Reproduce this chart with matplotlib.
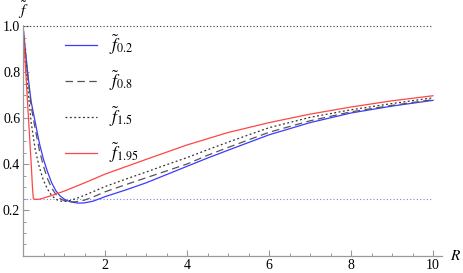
import numpy as np
import matplotlib.pyplot as plt
from matplotlib.ticker import MultipleLocator

plt.rcParams['mathtext.fontset'] = 'custom'
plt.rcParams['mathtext.rm'] = 'STIXGeneral'
plt.rcParams['mathtext.it'] = 'STIXGeneral:italic'
plt.rcParams['font.family'] = ['Liberation Serif', 'DejaVu Serif']

# values
r_02 = [0, 0.05, 0.1, 0.15, 0.2, 0.3, 0.4, 0.5, 0.6, 0.7, 0.8, 0.9, 1.0, 1.1, 1.2,
        1.35, 1.5, 1.7, 1.9, 2.0, 2.5, 3.0, 3.5, 4.0, 4.5, 5.0, 6.0, 7.0, 8.0, 9.0, 10.0]
f_02 = [1.0, 0.91, 0.82, 0.74, 0.67, 0.58, 0.49, 0.42, 0.365, 0.318, 0.284, 0.262, 0.248, 0.239, 0.234,
        0.230, 0.231, 0.238, 0.251, 0.258, 0.287, 0.318, 0.354, 0.39, 0.426, 0.46, 0.527, 0.58, 0.622, 0.652, 0.677]

r_08 = [0, 0.05, 0.1, 0.2, 0.3, 0.4, 0.5, 0.6, 0.7, 0.8, 0.9, 1.0, 1.15, 1.3, 1.5,
        1.7, 2.0, 2.5, 3.0, 3.5, 4.0, 4.5, 5.0, 6.0, 7.0, 8.0, 9.0, 10.0]
f_08 = [1.0, 0.9, 0.81, 0.65, 0.55, 0.46, 0.39, 0.335, 0.295, 0.268, 0.25, 0.241, 0.235, 0.236, 0.243,
        0.256, 0.279, 0.31, 0.34, 0.37, 0.40, 0.438, 0.472, 0.538, 0.588, 0.627, 0.655, 0.68]

r_15 = [0, 0.05, 0.1, 0.2, 0.3, 0.4, 0.5, 0.6, 0.7, 0.8, 0.9, 1.0, 1.1, 1.3, 1.5,
        1.7, 2.0, 2.5, 3.0, 3.5, 4.0, 4.5, 5.0, 6.0, 7.0, 8.0, 9.0, 10.0]
f_15 = [1.0, 0.87, 0.76, 0.58, 0.46, 0.385, 0.328, 0.29, 0.263, 0.247, 0.239, 0.237, 0.239, 0.25, 0.264,
        0.279, 0.302, 0.334, 0.365, 0.397, 0.428, 0.462, 0.495, 0.558, 0.603, 0.636, 0.663, 0.688]

r_195 = [0, 0.05, 0.1, 0.15, 0.2, 0.23, 0.25, 0.28, 0.3, 0.4, 0.5, 0.75, 1.0, 1.5,
         2.0, 2.5, 3.0, 4.0, 5.0, 6.0, 7.0, 8.0, 9.0, 10.0]
f_195 = [1.0, 0.85, 0.70, 0.55, 0.40, 0.30, 0.252, 0.247, 0.246, 0.247, 0.252, 0.266, 0.282, 0.318,
         0.356, 0.388, 0.42, 0.483, 0.537, 0.58, 0.617, 0.648, 0.675, 0.697]

labels = [r'$\tilde{f}_{\mathit{0.2}}$', r'$\tilde{f}_{\mathit{0.8}}$',
          r'$\tilde{f}_{\mathit{1.5}}$', r'$\tilde{f}_{\mathit{1.95}}$']

fig = plt.figure(figsize=(4.63, 2.73), dpi=100)
ax = fig.add_axes([0.0497, 0.0623, 0.905, 0.859])

ax.plot([0, 10], [1.0, 1.0], color='#333333', lw=0.8, ls=(0, (1, 2)))
ax.plot([0, 10], [0.25, 0.25], color='#8080ee', lw=0.8, ls=(0, (1, 2)))

ax.plot(r_02, f_02, color='#3b3bff', lw=0.9, label=labels[0])
ax.plot(r_08, f_08, color='#555555', lw=0.9, ls=(0, (6, 3.5)), label=labels[1])
ax.plot(r_15, f_15, color='#333333', lw=0.9, ls=(0, (1.5, 2)), label=labels[2])
ax.plot(r_195, f_195, color='#ff4545', lw=0.9, label=labels[3])

ax.set_xlim(0, 10.22)
ax.set_ylim(0, 1.02)
for s in ['top', 'right']:
    ax.spines[s].set_visible(False)
for s in ['left', 'bottom']:
    ax.spines[s].set_color('#999999')
    ax.spines[s].set_linewidth(0.9)
ax.spines['left'].set_bounds(0, 1.0)

ax.xaxis.set_minor_locator(MultipleLocator(0.5))
ax.yaxis.set_minor_locator(MultipleLocator(0.05))
ax.set_xticks([2, 4, 6, 8, 10])
ax.set_xticklabels(['2', '4', '6', '8', '10'])
ax.set_yticks([0.2, 0.4, 0.6, 0.8, 1.0])
ax.set_yticklabels(['0.2', '0.4', '0.6', '0.8', '1.0'])
ax.tick_params(which='major', direction='in', length=4, width=0.8, color='#999999',
               labelsize=10, pad=2)
ax.tick_params(which='minor', direction='in', length=2.2, width=0.7, color='#999999')

ax.text(1.018, 0.0, r'$R$', transform=ax.transAxes, fontsize=11, va='center', ha='left')
ax.text(0.0, 1.05, r'$\tilde{f}$', transform=ax.transAxes, fontsize=11, va='center', ha='center')

ax.legend(loc='upper left', bbox_to_anchor=(0.1, 0.95), frameon=False, fontsize=12.5,
          borderaxespad=0, borderpad=0, handlelength=1.85, labelspacing=0.68,
          handletextpad=0.7)

fig.savefig('out.png', dpi=100)
